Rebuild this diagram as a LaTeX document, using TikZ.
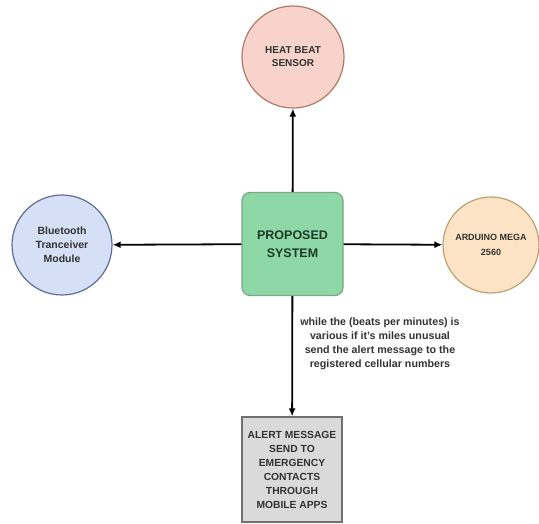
\documentclass[tikz,border=0pt]{standalone}
\usepackage{fontspec}
\setmainfont{Liberation Sans}
\usetikzlibrary{arrows.meta}
\definecolor{redfill}{HTML}{F8D3CB}
\definecolor{redline}{HTML}{B07A66}
\definecolor{bluefill}{HTML}{D5DFF5}
\definecolor{blueline}{HTML}{5E6F93}
\definecolor{orafill}{HTML}{FDE3C6}
\definecolor{oraline}{HTML}{B8A270}
\definecolor{grnfill}{HTML}{8ED8A8}
\definecolor{grnline}{HTML}{7CA882}
\definecolor{grntext}{HTML}{1C3A26}
\definecolor{greyfill}{HTML}{DADADA}
\definecolor{greyline}{HTML}{707070}
\definecolor{txt}{HTML}{333333}
\tikzset{
  x=1pt,y=-1pt,
  circ/.style={circle,draw,line width=1.2pt,minimum size=100pt,inner sep=0pt,align=center,text=txt},
  conn/.style={-{Latex[length=8pt,width=7pt]},line width=1.8pt,black},
}
\begin{document}
\begin{tikzpicture}
\useasboundingbox (0,0) rectangle (539,523);
\node[circ,fill=redfill,draw=redline,minimum size=102pt,font=\bfseries\fontsize{10}{13}\selectfont] (hb) at (293,57) {HEAT BEAT\\SENSOR};
\node[circ,fill=bluefill,draw=blueline,minimum size=100pt,font=\bfseries\fontsize{10.5}{14}\selectfont] (bt) at (62,245) {Bluetooth\\Tranceiver\\Module};
\node[circ,fill=orafill,draw=oraline,minimum size=96pt,font=\bfseries\fontsize{9}{14.5}\selectfont] (ar) at (491,245) {ARDUINO MEGA\\2560};
\node[draw=grnline,fill=grnfill,rounded corners=8pt,line width=1.2pt,minimum width=101pt,minimum height=103pt,align=center,text=grntext,font=\bfseries\fontsize{12.5}{18}\selectfont] (ps) at (292.5,244) {PROPOSED\\SYSTEM};
\node[draw=greyline,fill=greyfill,line width=1.2pt,minimum width=100pt,minimum height=105pt,inner sep=2pt,align=center,text=txt,font=\bfseries\fontsize{10.3}{14}\selectfont] (al) at (292,469.5) {ALERT MESSAGE\\SEND TO\\EMERGENCY\\CONTACTS\\THROUGH\\MOBILE APPS};
\draw[conn] (ps) -- (hb);
\draw[conn] (ps) -- (bt);
\draw[conn] (ps) -- (ar);
\draw[conn] (ps) -- (al);
\node[anchor=north,align=center,text=txt,font=\bfseries\fontsize{10.7}{14}\selectfont,inner sep=0pt] (lbl) at (380,318) {while the (beats per minutes) is\\various if it's miles unusual\\send the alert message to the\\registered cellular numbers};
\end{tikzpicture}
\end{document}
